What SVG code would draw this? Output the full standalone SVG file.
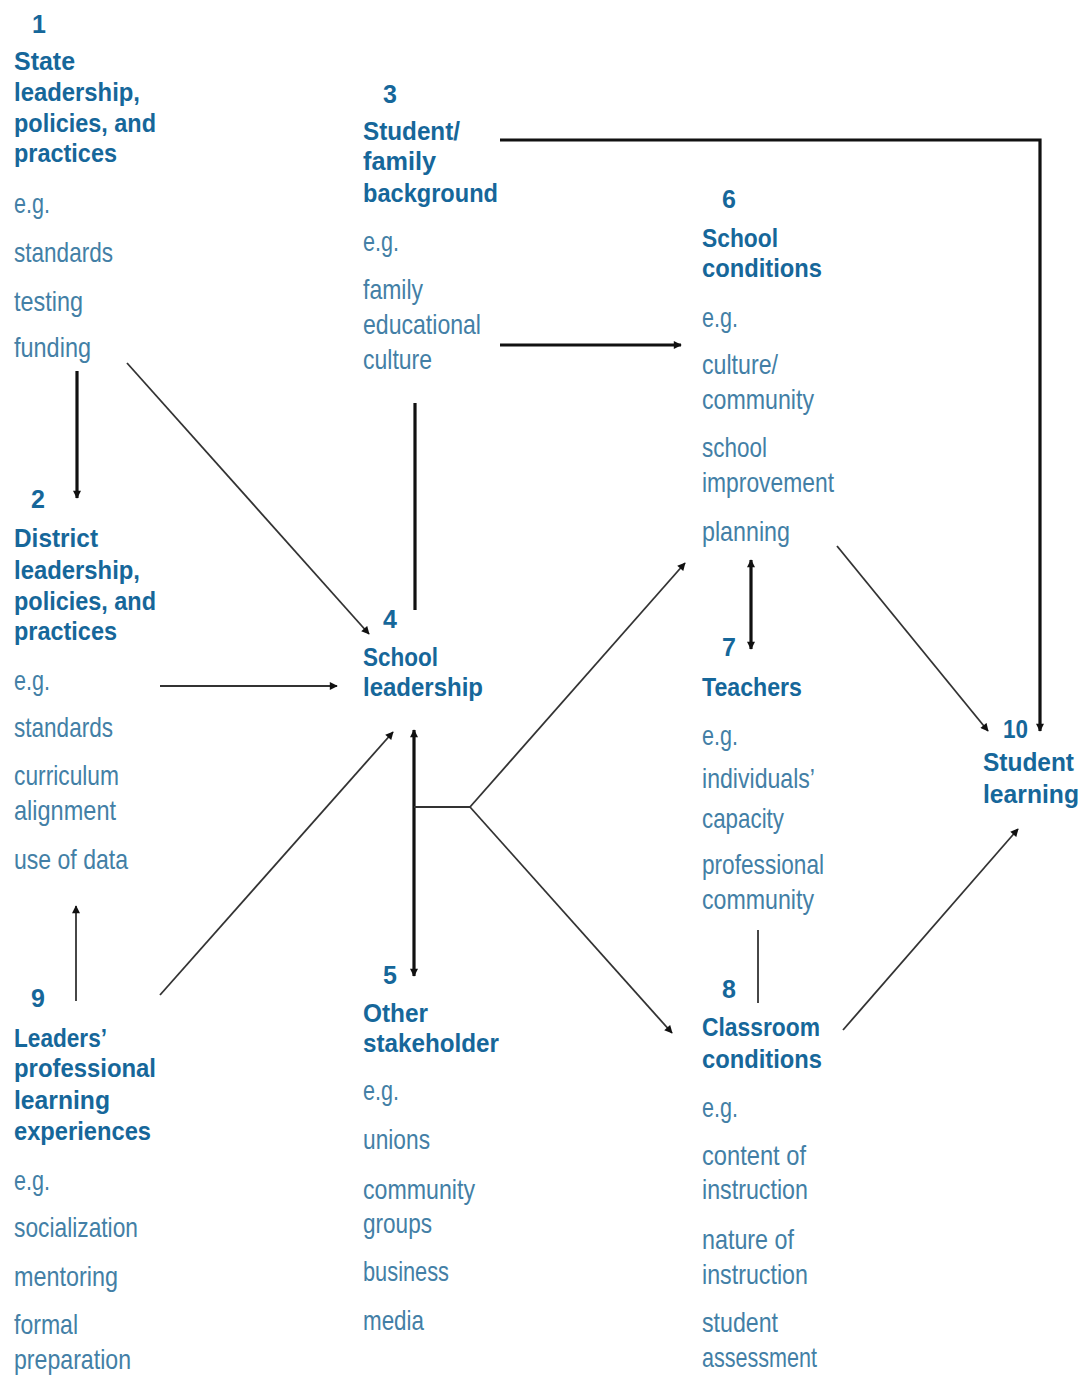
<svg xmlns="http://www.w3.org/2000/svg" width="1084" height="1378" viewBox="0 0 1084 1378">
<style>
.h{font-family:"Liberation Sans Narrow","Liberation Sans",Arial,sans-serif;font-weight:bold;font-size:26px;fill:#16679a}
.n{font-family:"Liberation Sans Narrow","Liberation Sans",Arial,sans-serif;font-weight:bold;font-size:25px;fill:#16679a}
.b{font-family:"Liberation Sans Narrow","Liberation Sans",Arial,sans-serif;font-size:28px;fill:#437fa6}
.thick{stroke:#111;stroke-width:3.2;fill:none}
.thin{stroke:#333;stroke-width:1.8;fill:none}
</style>
<defs>
<marker id="ah" viewBox="0 0 10 10" refX="9" refY="5" markerWidth="9" markerHeight="8" markerUnits="userSpaceOnUse" orient="auto-start-reverse">
<path d="M0,0 L10,5 L0,10 z" fill="#111"/>
</marker>
</defs>
<rect width="1084" height="1378" fill="#fff"/>

<g id="connectors">
<polyline class="thick" points="500,140 1040,140 1040,731" marker-end="url(#ah)"/>
<line class="thick" x1="500" y1="345" x2="681" y2="345" marker-end="url(#ah)"/>
<line class="thick" x1="77" y1="371" x2="77" y2="498" marker-end="url(#ah)"/>
<line class="thin" x1="127" y1="363" x2="369" y2="634" marker-end="url(#ah)"/>
<line class="thick" x1="415" y1="403" x2="415" y2="610"/>
<line class="thin" x1="160" y1="686" x2="337" y2="686" marker-end="url(#ah)"/>
<line class="thin" x1="160" y1="995" x2="393" y2="732" marker-end="url(#ah)"/>
<line class="thin" x1="76" y1="1001" x2="76" y2="906" marker-end="url(#ah)"/>
<line class="thick" x1="414" y1="730" x2="414" y2="976" marker-start="url(#ah)" marker-end="url(#ah)"/>
<line class="thin" x1="414" y1="807" x2="470" y2="807"/>
<line class="thin" x1="470" y1="807" x2="685" y2="563" marker-end="url(#ah)"/>
<line class="thin" x1="470" y1="807" x2="672" y2="1033" marker-end="url(#ah)"/>
<line class="thick" x1="751" y1="560" x2="751" y2="649" marker-start="url(#ah)" marker-end="url(#ah)"/>
<line class="thin" x1="758" y1="930" x2="758" y2="1003"/>
<line class="thin" x1="837" y1="546" x2="988" y2="731" marker-end="url(#ah)"/>
<line class="thin" x1="843" y1="1030" x2="1018" y2="829" marker-end="url(#ah)"/>
</g>

<g id="node1">
<text class="n" x="32" y="33">1</text>
<text class="h" x="14" y="70" textLength="61" lengthAdjust="spacingAndGlyphs">State</text>
<text class="h" x="14" y="101" textLength="126" lengthAdjust="spacingAndGlyphs">leadership,</text>
<text class="h" x="14" y="132" textLength="142" lengthAdjust="spacingAndGlyphs">policies, and</text>
<text class="h" x="14" y="162" textLength="103" lengthAdjust="spacingAndGlyphs">practices</text>
<text class="b" x="14" y="213" textLength="36" lengthAdjust="spacingAndGlyphs">e.g.</text>
<text class="b" x="14" y="262" textLength="99" lengthAdjust="spacingAndGlyphs">standards</text>
<text class="b" x="14" y="311" textLength="69" lengthAdjust="spacingAndGlyphs">testing</text>
<text class="b" x="14" y="357" textLength="77" lengthAdjust="spacingAndGlyphs">funding</text>
</g>

<g id="node2">
<text class="n" x="31" y="508">2</text>
<text class="h" x="14" y="547" textLength="84" lengthAdjust="spacingAndGlyphs">District</text>
<text class="h" x="14" y="579" textLength="126" lengthAdjust="spacingAndGlyphs">leadership,</text>
<text class="h" x="14" y="610" textLength="142" lengthAdjust="spacingAndGlyphs">policies, and</text>
<text class="h" x="14" y="640" textLength="103" lengthAdjust="spacingAndGlyphs">practices</text>
<text class="b" x="14" y="690" textLength="36" lengthAdjust="spacingAndGlyphs">e.g.</text>
<text class="b" x="14" y="737" textLength="99" lengthAdjust="spacingAndGlyphs">standards</text>
<text class="b" x="14" y="785" textLength="105" lengthAdjust="spacingAndGlyphs">curriculum</text>
<text class="b" x="14" y="820" textLength="102" lengthAdjust="spacingAndGlyphs">alignment</text>
<text class="b" x="14" y="869" textLength="114" lengthAdjust="spacingAndGlyphs">use of data</text>
</g>

<g id="node9">
<text class="n" x="31" y="1007">9</text>
<text class="h" x="14" y="1047" textLength="93" lengthAdjust="spacingAndGlyphs">Leaders’</text>
<text class="h" x="14" y="1077" textLength="142" lengthAdjust="spacingAndGlyphs">professional</text>
<text class="h" x="14" y="1109" textLength="96" lengthAdjust="spacingAndGlyphs">learning</text>
<text class="h" x="14" y="1140" textLength="137" lengthAdjust="spacingAndGlyphs">experiences</text>
<text class="b" x="14" y="1190" textLength="36" lengthAdjust="spacingAndGlyphs">e.g.</text>
<text class="b" x="14" y="1237" textLength="124" lengthAdjust="spacingAndGlyphs">socialization</text>
<text class="b" x="14" y="1286" textLength="104" lengthAdjust="spacingAndGlyphs">mentoring</text>
<text class="b" x="14" y="1334" textLength="64" lengthAdjust="spacingAndGlyphs">formal</text>
<text class="b" x="14" y="1369" textLength="117" lengthAdjust="spacingAndGlyphs">preparation</text>
</g>

<g id="node3">
<text class="n" x="383" y="103">3</text>
<text class="h" x="363" y="140" textLength="97" lengthAdjust="spacingAndGlyphs">Student/</text>
<text class="h" x="363" y="170" textLength="73" lengthAdjust="spacingAndGlyphs">family</text>
<text class="h" x="363" y="202" textLength="135" lengthAdjust="spacingAndGlyphs">background</text>
<text class="b" x="363" y="251" textLength="36" lengthAdjust="spacingAndGlyphs">e.g.</text>
<text class="b" x="363" y="299" textLength="60" lengthAdjust="spacingAndGlyphs">family</text>
<text class="b" x="363" y="334" textLength="118" lengthAdjust="spacingAndGlyphs">educational</text>
<text class="b" x="363" y="369" textLength="69" lengthAdjust="spacingAndGlyphs">culture</text>
</g>

<g id="node4">
<text class="n" x="383" y="628">4</text>
<text class="h" x="363" y="666" textLength="75" lengthAdjust="spacingAndGlyphs">School</text>
<text class="h" x="363" y="696" textLength="120" lengthAdjust="spacingAndGlyphs">leadership</text>
</g>

<g id="node5">
<text class="n" x="383" y="984">5</text>
<text class="h" x="363" y="1022" textLength="65" lengthAdjust="spacingAndGlyphs">Other</text>
<text class="h" x="363" y="1052" textLength="136" lengthAdjust="spacingAndGlyphs">stakeholder</text>
<text class="b" x="363" y="1100" textLength="36" lengthAdjust="spacingAndGlyphs">e.g.</text>
<text class="b" x="363" y="1149" textLength="67" lengthAdjust="spacingAndGlyphs">unions</text>
<text class="b" x="363" y="1199" textLength="112" lengthAdjust="spacingAndGlyphs">community</text>
<text class="b" x="363" y="1233" textLength="69" lengthAdjust="spacingAndGlyphs">groups</text>
<text class="b" x="363" y="1281" textLength="86" lengthAdjust="spacingAndGlyphs">business</text>
<text class="b" x="363" y="1330" textLength="61" lengthAdjust="spacingAndGlyphs">media</text>
</g>

<g id="node6">
<text class="n" x="722" y="208">6</text>
<text class="h" x="702" y="247" textLength="76" lengthAdjust="spacingAndGlyphs">School</text>
<text class="h" x="702" y="277" textLength="120" lengthAdjust="spacingAndGlyphs">conditions</text>
<text class="b" x="702" y="327" textLength="36" lengthAdjust="spacingAndGlyphs">e.g.</text>
<text class="b" x="702" y="374" textLength="76" lengthAdjust="spacingAndGlyphs">culture/</text>
<text class="b" x="702" y="409" textLength="112" lengthAdjust="spacingAndGlyphs">community</text>
<text class="b" x="702" y="457" textLength="65" lengthAdjust="spacingAndGlyphs">school</text>
<text class="b" x="702" y="492" textLength="132" lengthAdjust="spacingAndGlyphs">improvement</text>
<text class="b" x="702" y="541" textLength="88" lengthAdjust="spacingAndGlyphs">planning</text>
</g>

<g id="node7">
<text class="n" x="722" y="656">7</text>
<text class="h" x="702" y="696" textLength="100" lengthAdjust="spacingAndGlyphs">Teachers</text>
<text class="b" x="702" y="745" textLength="36" lengthAdjust="spacingAndGlyphs">e.g.</text>
<text class="b" x="702" y="788" textLength="113" lengthAdjust="spacingAndGlyphs">individuals’</text>
<text class="b" x="702" y="828" textLength="82" lengthAdjust="spacingAndGlyphs">capacity</text>
<text class="b" x="702" y="874" textLength="122" lengthAdjust="spacingAndGlyphs">professional</text>
<text class="b" x="702" y="909" textLength="112" lengthAdjust="spacingAndGlyphs">community</text>
</g>

<g id="node8">
<text class="n" x="722" y="998">8</text>
<text class="h" x="702" y="1036" textLength="118" lengthAdjust="spacingAndGlyphs">Classroom</text>
<text class="h" x="702" y="1068" textLength="120" lengthAdjust="spacingAndGlyphs">conditions</text>
<text class="b" x="702" y="1117" textLength="36" lengthAdjust="spacingAndGlyphs">e.g.</text>
<text class="b" x="702" y="1165" textLength="104" lengthAdjust="spacingAndGlyphs">content of</text>
<text class="b" x="702" y="1199" textLength="106" lengthAdjust="spacingAndGlyphs">instruction</text>
<text class="b" x="702" y="1249" textLength="92" lengthAdjust="spacingAndGlyphs">nature of</text>
<text class="b" x="702" y="1284" textLength="106" lengthAdjust="spacingAndGlyphs">instruction</text>
<text class="b" x="702" y="1332" textLength="76" lengthAdjust="spacingAndGlyphs">student</text>
<text class="b" x="702" y="1367" textLength="115" lengthAdjust="spacingAndGlyphs">assessment</text>
</g>

<g id="node10">
<text class="n" x="1003" y="738" textLength="25" lengthAdjust="spacingAndGlyphs">10</text>
<text class="h" x="983" y="771" textLength="91" lengthAdjust="spacingAndGlyphs">Student</text>
<text class="h" x="983" y="803" textLength="96" lengthAdjust="spacingAndGlyphs">learning</text>
</g>
</svg>
